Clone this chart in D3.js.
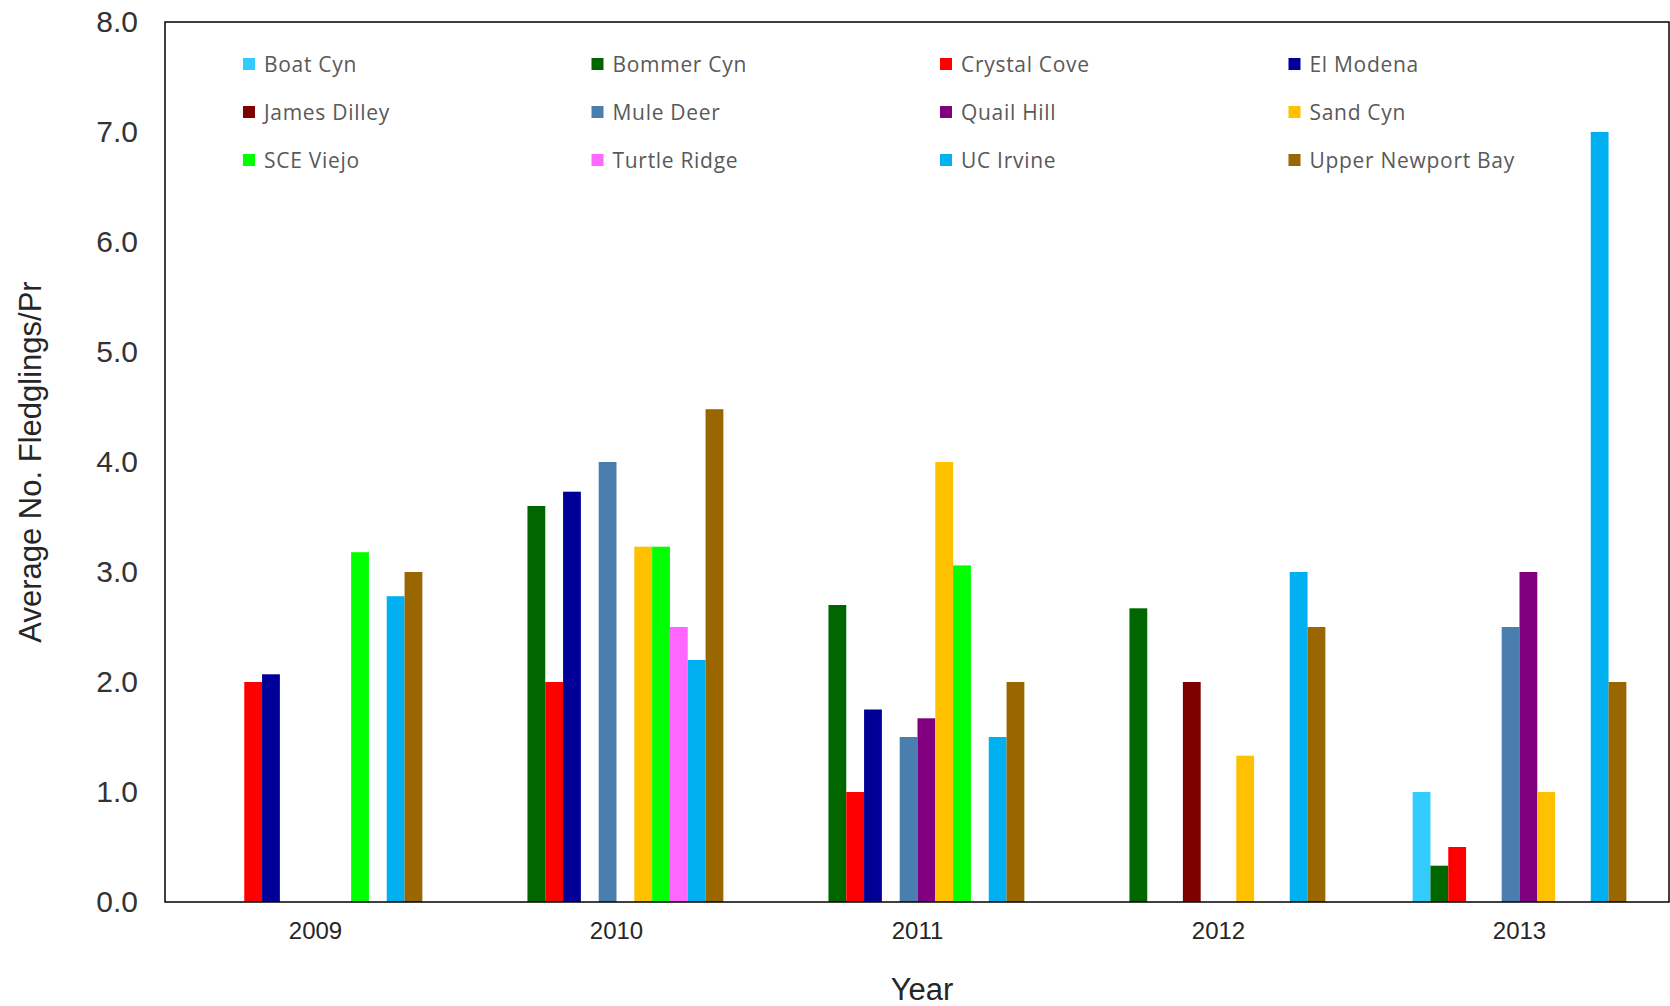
<!DOCTYPE html>
<html>
<head>
<meta charset="utf-8">
<script src="https://cdn.jsdelivr.net/npm/d3@7"></script>
<style>
  body { margin: 0; background: #fff; }
  svg { display: block; }
</style>
</head>
<body>
<svg id="chart" width="1670" height="1006"></svg>
<script>
// fledglings per pair, by site and year
var years = ["2009", "2010", "2011", "2012", "2013"];
var sites = ["Boat Cyn", "Bommer Cyn", "Crystal Cove", "El Modena",
             "James Dilley", "Mule Deer", "Quail Hill", "Sand Cyn",
             "SCE Viejo", "Turtle Ridge", "UC Irvine", "Upper Newport Bay"];
var site_colors = ["#33ccff", "#006600", "#ff0000", "#000099",
                   "#800000", "#4a7eae", "#800080", "#ffc000",
                   "#00ff00", "#ff66ff", "#00b0f0", "#996600"];
// one row per site, one value per year (null = no bar)
var boat_cyn     = [null, null, null, null, 1.0];
var bommer_cyn   = [null, 3.6, 2.7, 2.67, 0.33];
var crystal_cove = [2.0, 2.0, 1.0, null, 0.5];
var el_modena    = [2.07, 3.73, 1.75, null, null];
var james_dilley = [null, null, null, 2.0, null];
var mule_deer    = [null, 4.0, 1.5, null, 2.5];
var quail_hill   = [null, null, 1.67, null, 3.0];
var sand_cyn     = [null, 3.23, 4.0, 1.33, 1.0];
var sce_viejo    = [3.18, 3.23, 3.06, null, null];
var turtle_ridge = [null, 2.5, null, null, null];
var uc_irvine    = [2.78, 2.2, 1.5, 3.0, 7.0];
var upper_newport = [3.0, 4.48, 2.0, 2.5, 2.0];
var y_ticks = [0, 1, 2, 3, 4, 5, 6, 7, 8];

var site_values = [boat_cyn, bommer_cyn, crystal_cove, el_modena, james_dilley, mule_deer,
                   quail_hill, sand_cyn, sce_viejo, turtle_ridge, uc_irvine, upper_newport];

const margin = {top: 22, right: 0, bottom: 104, left: 165};
const width = 1670 - margin.left - margin.right;
const height = 1006 - margin.top - margin.bottom;

var svg = d3.select("#chart");
var g = svg.append("g")
    .attr("transform", "translate(" + margin.left + "," + margin.top + ")");

var bars = [];
site_values.forEach(function(vals, i){
    vals.forEach(function(v, j){
        if (v !== null) bars.push({site: sites[i], year: years[j], value: v, idx: i});
    });
});

var x0 = d3.scaleBand().domain(years).range([0, width]);
var gap = x0.bandwidth() * 0.145;
var x1 = d3.scaleBand().domain(sites).range([gap, x0.bandwidth() - gap]);
var y = d3.scaleLinear().domain([0, 8]).range([height, 0]);

// bars
g.append("g")
  .selectAll("rect")
  .data(bars)
  .enter()
  .append("rect")
  .attr("x", d => x0(d.year) + x1(d.site))
  .attr("y", d => y(d.value))
  .attr("width", x1.bandwidth())
  .attr("height", d => y(0) - y(d.value))
  .attr("fill", d => site_colors[d.idx]);

// frame
g.append("rect")
  .attr("x", 0).attr("y", 0)
  .attr("width", width - 1).attr("height", height)
  .attr("fill", "none")
  .attr("stroke", "#000")
  .attr("stroke-width", 1.5);

// y axis labels
var yAxis = g.append("g")
  .call(d3.axisLeft(y).tickValues(y_ticks).tickSize(0).tickPadding(27).tickFormat(d3.format(".1f")));
yAxis.select(".domain").remove();
yAxis.selectAll("text")
  .attr("font-family", "Liberation Sans, Arial, sans-serif")
  .attr("font-size", "30px")
  .attr("fill", "#333");

// x axis labels
var xAxis = g.append("g")
  .attr("transform", "translate(0," + height + ")")
  .call(d3.axisBottom(x0).tickSize(0).tickPadding(20));
xAxis.select(".domain").remove();
xAxis.selectAll("text")
  .attr("font-family", "Liberation Sans, Arial, sans-serif")
  .attr("font-size", "24px")
  .attr("fill", "#262626");

// axis titles
svg.append("text")
  .attr("transform", "translate(41," + (margin.top + height / 2) + ") rotate(-90)")
  .attr("text-anchor", "middle")
  .attr("font-family", "Liberation Sans, Arial, sans-serif")
  .attr("font-size", "31px")
  .attr("fill", "#262626")
  .text("Average No. Fledglings/Pr");

svg.append("text")
  .attr("x", 922)
  .attr("y", 1000)
  .attr("text-anchor", "middle")
  .attr("font-family", "Liberation Sans, Arial, sans-serif")
  .attr("font-size", "31px")
  .attr("fill", "#262626")
  .text("Year");

// legend, 4 columns x 3 rows
var legend = svg.append("g").attr("transform", "translate(243,64)");
var item = legend.selectAll(".item")
  .data(sites)
  .enter().append("g")
  .attr("class", "item")
  .attr("transform", (d, i) => "translate(" + (i % 4) * 348.5 + "," + Math.floor(i / 4) * 48 + ")");
item.append("rect")
  .attr("x", 0).attr("y", -6)
  .attr("width", 12).attr("height", 12)
  .attr("fill", (d, i) => site_colors[i]);
item.append("text")
  .attr("x", 21)
  .attr("y", 0)
  .attr("dy", "0.36em")
  .attr("font-family", "Open Sans, sans-serif")
  .attr("font-size", "21px")
  .attr("letter-spacing", "0.7px")
  .attr("fill", "#595959")
  .text(d => d);
</script>
</body>
</html>
